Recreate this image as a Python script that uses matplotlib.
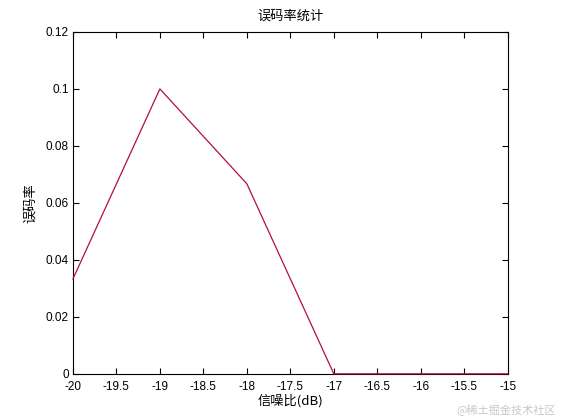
import numpy as np
import matplotlib
matplotlib.use('Agg')
import matplotlib.pyplot as plt

plt.rcParams['font.family'] = ['Liberation Sans', 'Noto Sans CJK SC', 'DejaVu Sans']

# data
snr_db = [-20, -19, -18, -17, -16, -15]
ber = [0.0333, 0.1, 0.0667, 0.0, 0.0, 0.0]

xticks = np.arange(-20, -14.9, 0.5)
yticks = [0, 0.02, 0.04, 0.06, 0.08, 0.1, 0.12]

cjk = ['Noto Sans CJK SC', 'DejaVu Sans']

fig = plt.figure(figsize=(5.61, 4.2), dpi=100)
ax = fig.add_axes([0.13, 0.11, 0.775, 0.814])

ax.plot(snr_db, ber, color='#b01040', lw=0.9, clip_on=False, zorder=3)

ax.set_xlim(-20, -15)
ax.set_ylim(0, 0.12)
ax.set_xticks(xticks)
ax.set_xticklabels(['%g' % t for t in xticks])
ax.set_yticks(yticks)
ax.set_yticklabels(['%g' % t for t in yticks])
ax.tick_params(direction='in', top=True, right=True, length=4, width=0.8,
               labelsize=8.5, colors='k')
ax.tick_params(axis='x', pad=5)
ax.tick_params(axis='y', pad=3)
for s in ax.spines.values():
    s.set_linewidth(0.8)

ax.set_title('误码率统计', fontsize=9.5, family=cjk, pad=9)
ax.set_xlabel('信噪比(dB)', fontsize=9.5, family=cjk, labelpad=1)
ax.set_ylabel('误码率', fontsize=9.5, family=cjk, labelpad=6)

fig.text(0.99, 0.01, '@稀土掘金技术社区', ha='right', va='bottom', fontsize=8,
         color='#c8c8c8', family=cjk)

fig.savefig('out.png', dpi=100)
